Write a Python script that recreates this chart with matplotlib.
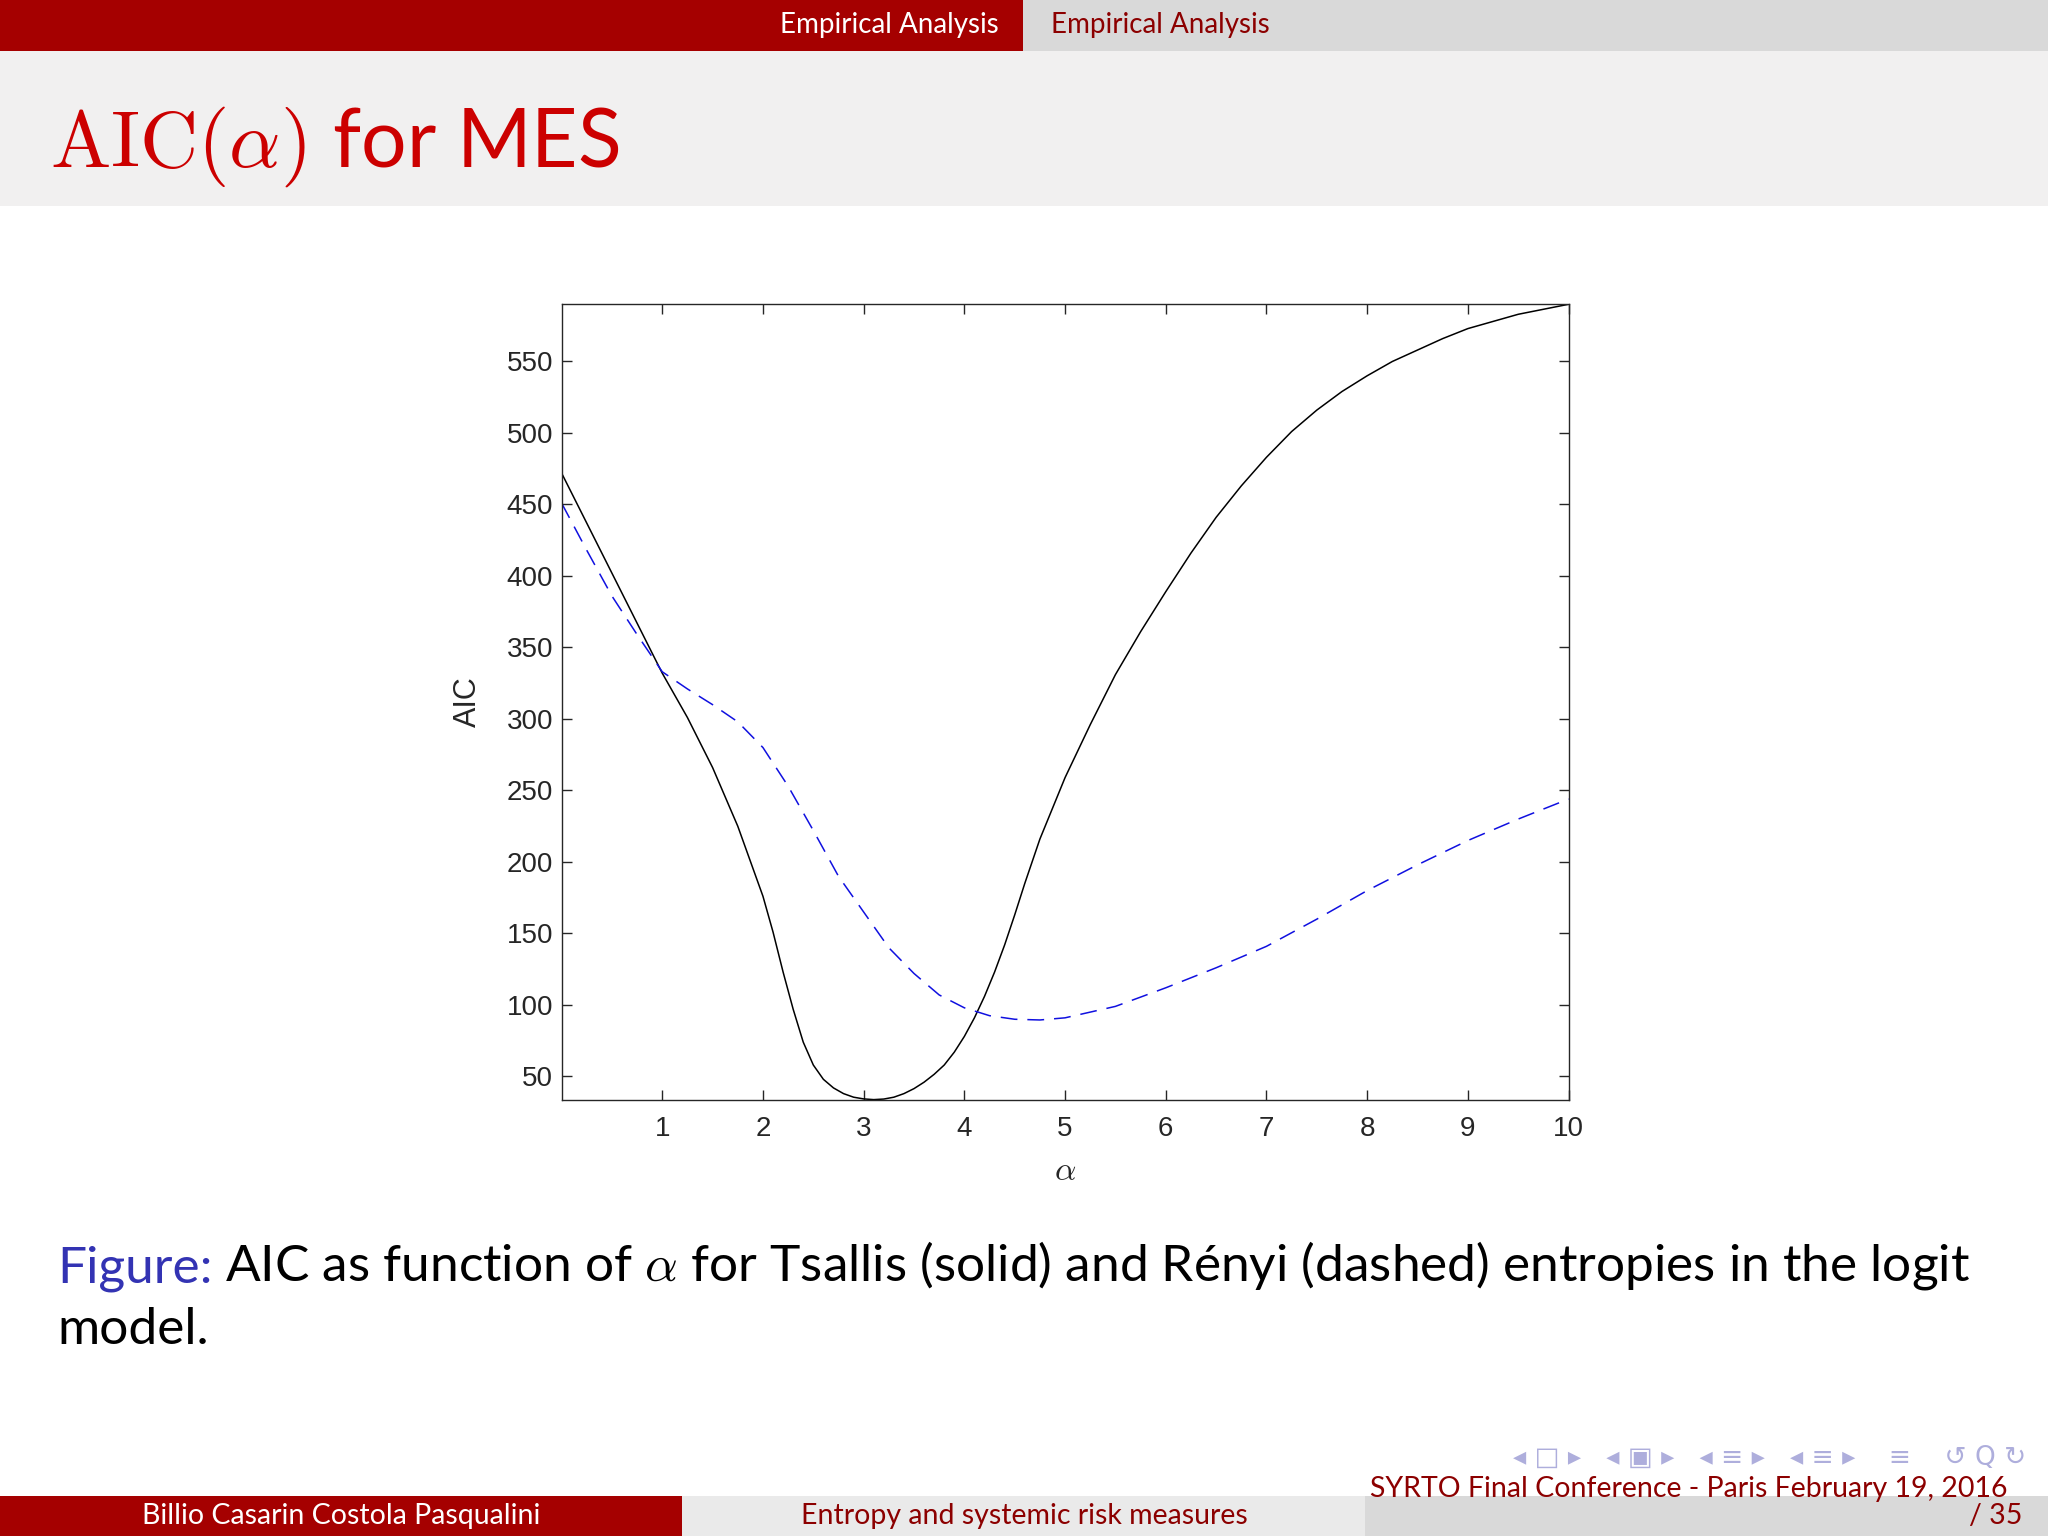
import numpy as np
import matplotlib.pyplot as plt
from matplotlib.patches import Rectangle

plt.rcParams['mathtext.fontset'] = 'cm'

# AIC(alpha): Tsallis (solid) and Renyi (dashed)
alpha_tsallis = [0, 0.25, 0.5, 0.75, 1.0, 1.25, 1.5, 1.75, 2.0, 2.1, 2.2, 2.3, 2.4, 2.5,
                 2.6, 2.7, 2.8, 2.9, 3.0, 3.1, 3.2, 3.3, 3.4, 3.5, 3.6, 3.7, 3.8, 3.9,
                 4.0, 4.1, 4.2, 4.3, 4.4, 4.5, 4.6, 4.75, 5.0, 5.25, 5.5, 5.75, 6.0,
                 6.25, 6.5, 6.75, 7.0, 7.25, 7.5, 7.75, 8.0, 8.25, 8.5, 8.75, 9.0,
                 9.5, 10.0]
aic_tsallis = [472, 437, 402, 367, 332, 301, 266, 225, 176, 151, 123, 97, 74, 58,
               48, 42, 38, 35.5, 34.3, 33.8, 34.2, 35.5, 38, 41.5, 46, 51.5, 58, 67,
               78, 91, 106, 123, 142, 163, 185, 216, 259, 296, 331, 361, 389,
               416, 441, 463, 483, 501, 516, 529, 540, 550, 558, 566, 573,
               583, 590]

alpha_renyi = [0, 0.25, 0.5, 0.75, 1.0, 1.25, 1.5, 1.75, 2.0, 2.25, 2.5, 2.75, 3.0,
               3.25, 3.5, 3.75, 4.0, 4.25, 4.5, 4.75, 5.0, 5.5, 6.0, 6.5, 7.0, 7.5,
               8.0, 8.5, 9.0, 9.5, 10.0]
aic_renyi = [451, 418, 386, 359, 333, 321, 310, 298, 280, 253, 222, 190, 165,
             140, 122, 107, 98, 92.5, 90, 89.5, 91, 99, 112, 126, 141, 160,
             180, 198, 215, 230, 244]

x_ticks = [1, 2, 3, 4, 5, 6, 7, 8, 9, 10]
y_ticks = [50, 100, 150, 200, 250, 300, 350, 400, 450, 500, 550]

RED = '#A50000'
DARKRED = '#8C0000'
SANS = 'Lato'

fig = plt.figure(figsize=(20.48, 15.36), dpi=100)
fig.patch.set_facecolor('white')

# slide decoration in pixel coordinates
bg = fig.add_axes([0, 0, 1, 1])
bg.set_xlim(0, 2048)
bg.set_ylim(1536, 0)
bg.axis('off')
bg.add_patch(Rectangle((0, 0), 1023, 51, color=RED, lw=0))
bg.add_patch(Rectangle((1023, 0), 1025, 51, color='#D9D9D9', lw=0))
bg.add_patch(Rectangle((0, 51), 2048, 155, color='#F1F0F0', lw=0))
bg.add_patch(Rectangle((0, 1496), 682, 40, color=RED, lw=0))
bg.add_patch(Rectangle((682, 1496), 683, 40, color='#EAEAEA', lw=0))
bg.add_patch(Rectangle((1365, 1496), 683, 40, color='#D9D9D9', lw=0))

bg.text(999, 25, 'Empirical Analysis', color='white', fontsize=20, family=SANS,
        ha='right', va='center')
bg.text(1051, 25, 'Empirical Analysis', color=DARKRED, fontsize=20, family=SANS,
        ha='left', va='center')
bg.text(50, 167, r'$\mathrm{AIC}(\alpha)$ for MES', color='#CC0000', fontsize=58,
        family=SANS, ha='left', va='baseline')

cap = 'AIC as function of $\\alpha$ for Tsallis (solid) and Rényi (dashed) entropies in the logit'
t = bg.text(57, 1282, 'Figure:', color='#3333B3', fontsize=37, family=SANS,
            ha='left', va='baseline')
bg.annotate(' ' + cap, xycoords=t, xy=(1, 0), va='bottom', ha='left',
            fontsize=37, family=SANS, color='black')
bg.text(57, 1344, 'model.', color='black', fontsize=37, family=SANS,
        ha='left', va='baseline')

bg.text(2026, 1458, '◂ □ ▸   ◂ ▣ ▸   ◂ ≡ ▸   ◂ ≡ ▸    ≡    ↺ Q ↻', color='#AEAEDC',
        fontsize=19, ha='right', va='center')
bg.text(341, 1516, 'Billio Casarin Costola Pasqualini', color='white', fontsize=20.5,
        family=SANS, ha='center', va='center')
bg.text(1024, 1516, 'Entropy and systemic risk measures', color=DARKRED, fontsize=20.5,
        family=SANS, ha='center', va='center')
bg.text(2007, 1489, 'SYRTO Final Conference - Paris February 19, 2016', color=DARKRED,
        fontsize=20.5, family=SANS, ha='right', va='center')
bg.text(2022, 1516, '/ 35', color=DARKRED, fontsize=20.5, family=SANS,
        ha='right', va='center')

# the chart
ax = fig.add_axes([0.2742, 0.2841, 0.4917, 0.5178])
ax.plot(alpha_tsallis, aic_tsallis, color='black', lw=1.1)
ax.plot(alpha_renyi, aic_renyi, color='#1010E0', lw=1.1, dashes=(11, 6.5))
ax.set_xlim(0, 10)
ax.set_ylim(min(aic_tsallis), max(aic_tsallis))
ax.set_xticks(x_ticks)
ax.set_yticks(y_ticks)
for s in ax.spines.values():
    s.set_color('#262626')
    s.set_linewidth(1.0)
ax.tick_params(direction='in', length=7.5, width=1, colors='#262626',
               top=True, right=True, labelsize=20)
ax.tick_params(axis='x', pad=12)
ax.tick_params(axis='y', pad=6)
for lab in ax.get_xticklabels() + ax.get_yticklabels():
    lab.set_family('Liberation Sans')
    lab.set_color('#262626')
ax.set_ylabel('AIC', fontsize=22, family='Liberation Sans', color='#262626')
ax.yaxis.set_label_coords(-0.078, 0.5)
ax.set_xlabel(r'$\alpha$', fontsize=24, color='#262626')
ax.xaxis.set_label_coords(0.5, -0.068)

fig.savefig('out.png', dpi=100)
